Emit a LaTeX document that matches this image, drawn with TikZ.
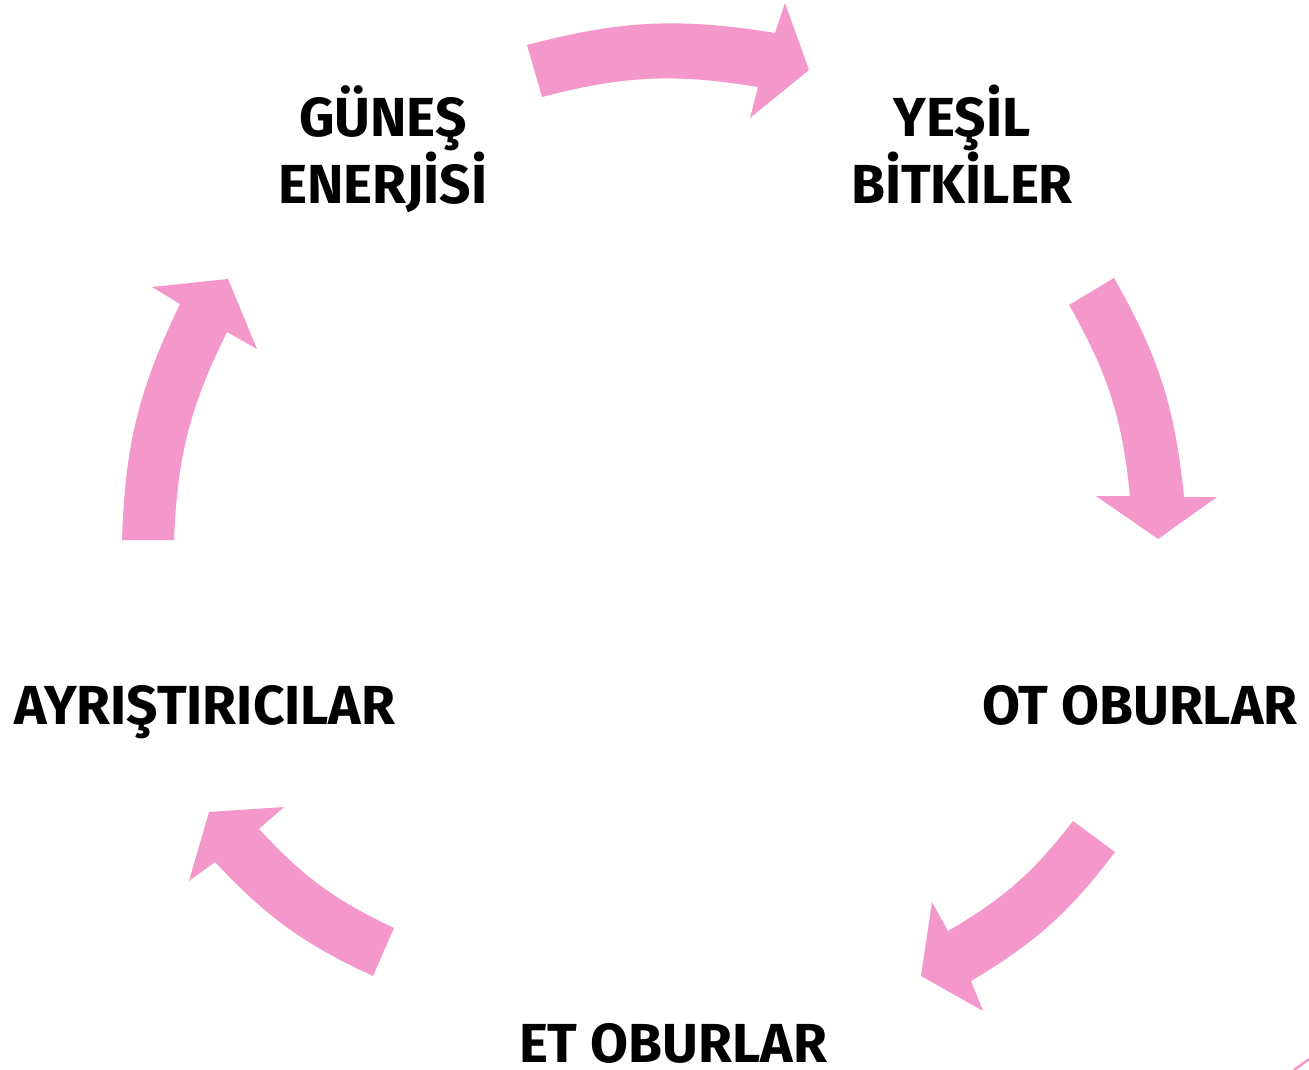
\documentclass[tikz,border=0pt]{standalone}
\usepackage{fontspec}
\setmainfont{Fira Sans}
\definecolor{arrowpink}{RGB}{244,151,203}
\begin{document}
\begin{tikzpicture}[x=1pt,y=-1pt,
  lbl/.style={font=\fontsize{55}{60}\selectfont\bfseries, text=black, inner sep=0pt, align=center, anchor=base},
  bigarrow/.style={fill=arrowpink, draw=none}]
\useasboundingbox (0,0) rectangle (1309,1070);
% labels
\node[lbl] (gunes) at (383,203) {GÜNEŞ\\ENERJİSİ};
\node[lbl] (yesil) at (962,203) {YEŞİL\\BİTKİLER};
\node[lbl] (ot) at (1140,724) {OT OBURLAR};
\node[lbl, text depth=0pt] (et) at (673,1062) {ET OBURLAR};
\node[lbl] (ayr) at (205,724) {AYRIŞTIRICILAR};
% curved block arrows (clockwise)
\fill[bigarrow] (527,45) to[bend left=12] (775,33) -- (785,3) -- (809,70) -- (750,118) -- (758,87) to[bend right=12] (542,97) -- cycle;
\fill[bigarrow] (1114,278) to[bend left=12] (1184,497) -- (1217,497) -- (1158,539) -- (1096,496) -- (1130,496) to[bend right=12] (1069,305) -- cycle;
\fill[bigarrow] (1115,852) to[bend left=11] (971,981) -- (983,1011) -- (921,976) -- (932,902) -- (948,931) to[bend right=11] (1073,821) -- cycle;
\fill[bigarrow] (373,976) to[bend left=11] (215,862) -- (189,881) -- (209,812) -- (284,807) -- (259,829) to[bend right=11] (394,928) -- cycle;
\fill[bigarrow] (122,540) to[bend left=12] (180,304) -- (152,287) -- (228,279) -- (257,349) -- (227,332) to[bend right=12] (174,540) -- cycle;
% small fragment at the corner
\coordinate (fragA) at (1294,1070);
\coordinate (fragB) at (1309,1059);
\draw[arrowpink, line width=2.5pt] (fragA) -- (fragB);
\end{tikzpicture}
\end{document}
